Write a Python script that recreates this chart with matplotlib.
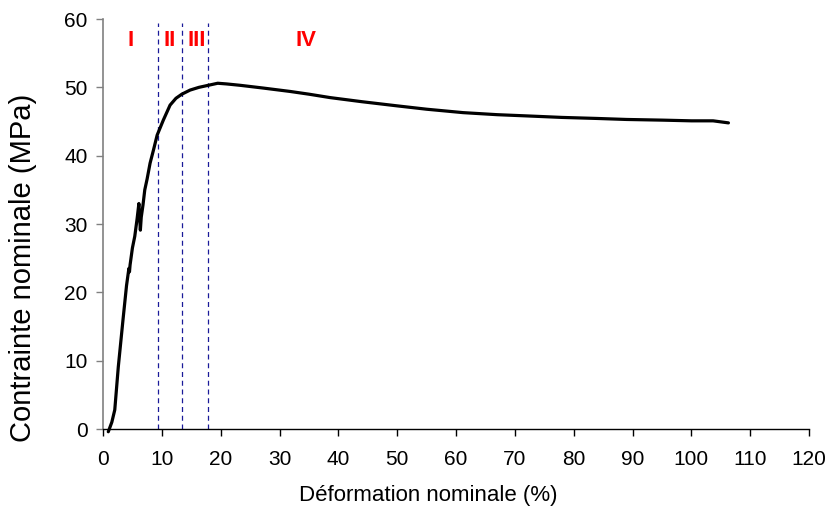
import matplotlib
matplotlib.use("Agg")
import matplotlib.pyplot as plt

plt.rcParams['font.family'] = ['Liberation Sans', 'DejaVu Sans']

strain = [0.9, 1.5, 2.0, 2.6, 3.4, 4.0, 4.4, 4.5, 4.6, 5.0, 5.4, 5.8, 6.1, 6.2, 6.35, 6.5, 6.8,
          7.1, 7.5, 8.0, 8.6, 9.2, 10.25, 11.4, 12.4, 13.4, 14.8, 16.3, 17.9, 19.5, 21.0,
          23.3, 27.2, 31.8, 35.0, 38.6, 44.0, 49.9, 55.0, 61.2, 67.0, 72.6, 78.0, 83.9,
          89.0, 95.2, 100.0, 103.7, 106.3]
stress = [-0.4, 1.0, 2.8, 9.1, 16.0, 21.0, 23.5, 23.0, 24.0, 26.5, 28.2, 30.8, 33.0, 31.5, 29.1, 31.0, 32.8,
          35.0, 36.6, 38.9, 40.9, 43.0, 45.2, 47.4, 48.4, 49.0, 49.6, 50.0, 50.3, 50.6, 50.5,
          50.3, 49.9, 49.4, 49.0, 48.5, 47.9, 47.3, 46.8, 46.3, 46.0, 45.8, 45.6, 45.45,
          45.3, 45.2, 45.1, 45.1, 44.8]

region_bounds = [9.3, 13.4, 17.9]
region_labels = ['I', 'II', 'III', 'IV']
region_label_x = [4.7, 11.4, 16.0, 34.5]
region_label_y = 56.8

fig = plt.figure(figsize=(8.32, 5.07), dpi=100)
ax = fig.add_axes([0.1238, 0.1538, 0.9724 - 0.1238, 0.9625 - 0.1538])

ax.plot(strain, stress, color='black', lw=2.3, solid_capstyle='round',
        solid_joinstyle='round', zorder=3, clip_on=False)
for b in region_bounds:
    ax.plot([b, b], [0, 59.4], color='#1a1a99', lw=0.9, ls=(0, (4, 3)), zorder=2)
for lab, xl in zip(region_labels, region_label_x):
    ax.text(xl, region_label_y, lab, color='#ff0000', fontsize=16, fontweight='bold',
            ha='center', va='center')

ax.set_xlim(0, 120)
ax.set_ylim(0, 60)
ax.set_xticks(range(0, 121, 10))
ax.set_yticks(range(0, 61, 10))
for s in ['top', 'right']:
    ax.spines[s].set_visible(False)
ax.spines['left'].set_color('#808080')
ax.spines['bottom'].set_color('black')
ax.spines['left'].set_linewidth(1.2)
ax.spines['bottom'].set_linewidth(1.0)
ax.tick_params(axis='y', direction='out', length=5, width=1, labelsize=15, colors='#808080',
               labelcolor='black', pad=6)
ax.tick_params(axis='x', direction='out', length=5, width=1, labelsize=15, colors='black', pad=10)
ax.set_xlabel('Déformation nominale (%)', fontsize=16)
ax.set_ylabel('Contrainte nominale (MPa)', fontsize=21)
ax.xaxis.set_label_coords(0.461, -0.161)
ax.xaxis.label.set_verticalalignment('center')
ax.yaxis.set_label_coords(-0.113, 0.393)
ax.yaxis.label.set_verticalalignment('center')
ax.patch.set_visible(False)

fig.savefig('out.png', dpi=100)
